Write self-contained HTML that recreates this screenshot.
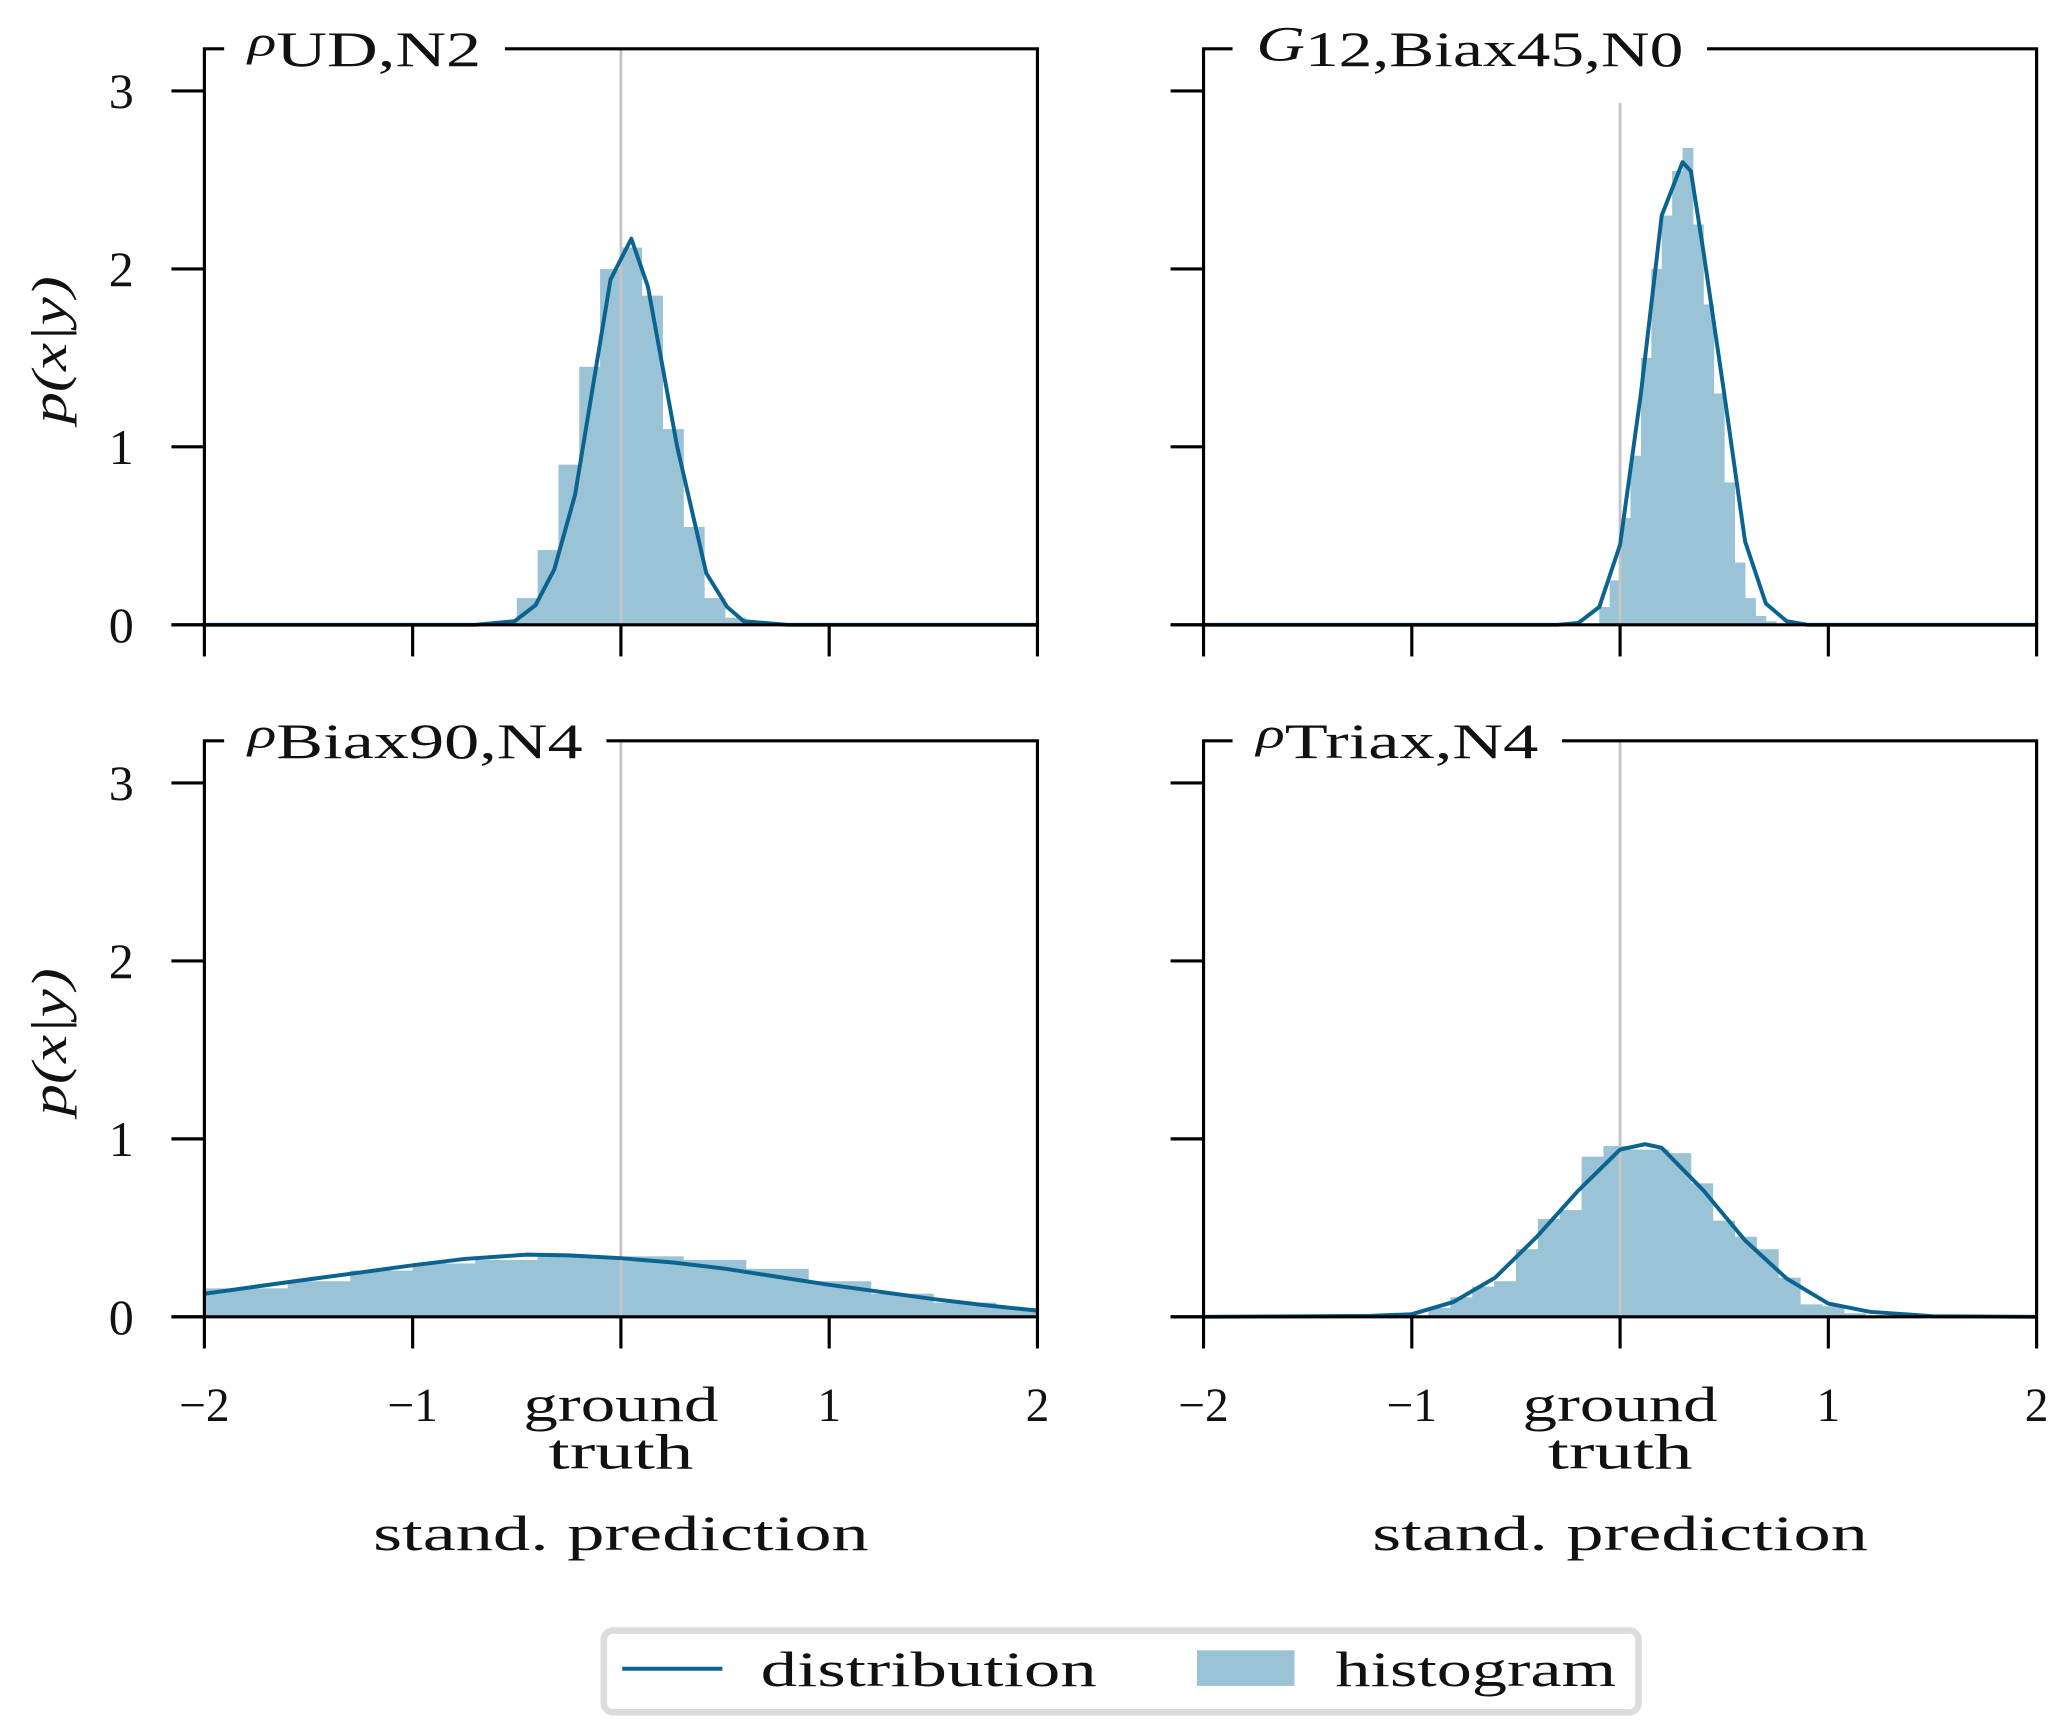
<!DOCTYPE html>
<html><head><meta charset="utf-8"><style>
html,body{margin:0;padding:0;background:#fff;}
svg{display:block;}
text{font-family:"Liberation Serif","DejaVu Serif",serif;fill:#111;}
</style></head><body>
<svg id="fig" xmlns="http://www.w3.org/2000/svg" width="2067" height="1736" viewBox="0 0 1568 1317"></svg>
<script>
// ---- data ----
const p1CurveX=[-2,-0.7,-0.51,-0.41,-0.32,-0.22,-0.05,0.05,0.13,0.27,0.41,0.51,0.59,0.8,2];
const p1CurveY=[0,0,0.02,0.11,0.31,0.73,1.94,2.17,1.90,1.0,0.29,0.10,0.02,0,0];
const p1BinEdges=[-0.6,-0.5,-0.4,-0.3,-0.2,-0.1,0,0.1,0.2,0.3,0.4,0.5,0.6];
const p1Hist=[0.02,0.15,0.42,0.9,1.45,2.0,2.12,1.85,1.1,0.55,0.15,0.04];

const p2CurveX=[-2,-0.3,-0.2,-0.1,0,0.1,0.2,0.3,0.34,0.4,0.5,0.6,0.7,0.8,0.9,2];
const p2CurveY=[0,0,0.01,0.1,0.45,1.3,2.3,2.6,2.55,2.1,1.3,0.47,0.12,0.02,0,0];
const p2BinEdges=[-0.1,-0.05,0,0.05,0.1,0.15,0.2,0.25,0.3,0.35,0.4,0.45,0.5,0.55,0.6,0.65,0.7,0.75];
const p2Hist=[0.1,0.25,0.6,0.95,1.5,2.0,2.3,2.55,2.68,2.25,1.8,1.3,0.8,0.35,0.15,0.05,0.02];

const p3CurveX=[-2,-1.75,-1.5,-1.25,-1,-0.75,-0.45,-0.25,0,0.25,0.5,0.75,1,1.25,1.5,1.75,2];
const p3CurveY=[0.13,0.17,0.21,0.25,0.29,0.325,0.35,0.345,0.33,0.305,0.27,0.225,0.18,0.14,0.1,0.065,0.035];
const p3BinEdges=[-2,-1.6,-1.3,-1.0,-0.7,-0.4,-0.1,0,0.3,0.6,0.9,1.2,1.5,1.8,2];
const p3Hist=[0.16,0.2,0.26,0.3,0.32,0.34,0.34,0.34,0.32,0.27,0.2,0.13,0.08,0.05];

const p4CurveX=[-2,-1.2,-1,-0.8,-0.6,-0.4,-0.2,0,0.12,0.2,0.4,0.6,0.8,1.0,1.2,1.5,2];
const p4CurveY=[0,0.005,0.015,0.084,0.22,0.45,0.71,0.94,0.97,0.95,0.71,0.43,0.215,0.075,0.028,0.004,0];
const p4BinEdges=[-0.92,-0.815,-0.71,-0.605,-0.5,-0.395,-0.29,-0.185,-0.08,0.025,0.13,0.235,0.34,0.445,0.55,0.655,0.76,0.865,0.97,1.075,1.18];
const p4Hist=[0.05,0.11,0.17,0.2,0.38,0.55,0.6,0.9,0.96,0.94,0.94,0.92,0.75,0.54,0.45,0.38,0.22,0.07,0.06,0.02];

const xTicks=[-2,-1,0,1,2];
const xTickLabels=["\u22122","\u22121","ground|truth","1","2"];
const yTicks=[0,1,2,3];
const yTickLabels=["0","1","2","3"];

// ---- drawing ----
const NS="http://www.w3.org/2000/svg";
const svg=document.getElementById('fig');
function mk(tag,attrs,parent){const e=document.createElementNS(NS,tag);for(const k in attrs)e.setAttribute(k,attrs[k]);(parent||svg).appendChild(e);return e;}
const HIST="#9bc3d6", LINE="#0b6390";
const FS=38;

const panels=[
 {x0:155,yb:474,top:37,gtTop:37,cx:p1CurveX,cy:p1CurveY,be:p1BinEdges,h:p1Hist,sym:"ρ",sub:"UD,N2",stubEnd:170,lineStart:383,ylab:true,xlab:false,name:"rho-ud-n2"},
 {x0:913,yb:474,top:37,gtTop:78,cx:p2CurveX,cy:p2CurveY,be:p2BinEdges,h:p2Hist,sym:"G",sub:"12,Biax45,N0",stubEnd:935,lineStart:1295,ylab:false,xlab:false,name:"g12-biax45-n0"},
 {x0:155,yb:999,top:562,gtTop:562,cx:p3CurveX,cy:p3CurveY,be:p3BinEdges,h:p3Hist,sym:"ρ",sub:"Biax90,N4",stubEnd:170,lineStart:460,ylab:true,xlab:true,name:"rho-biax90-n4"},
 {x0:913,yb:999,top:562,gtTop:562,cx:p4CurveX,cy:p4CurveY,be:p4BinEdges,h:p4Hist,sym:"ρ",sub:"Triax,N4",stubEnd:935,lineStart:1185,ylab:false,xlab:true,name:"rho-triax-n4"}
];
const W=632, PERY=135;

panels.forEach((P,pi)=>{
  const g=mk('g',{});
  
  
  const sx=v=>P.x0+(v+2)/4*W;
  const sy=v=>P.yb-v*PERY;
  const hg=mk('g',{},g);
  
  
  P.h.forEach((v,i)=>{
    const x1=sx(P.be[i]),x2=sx(P.be[i+1]);
    const r=mk('rect',{x:x1,y:sy(v),width:x2-x1+0.3,height:P.yb-sy(v),fill:HIST},hg);
    
    
  });
  const gt=mk('line',{x1:sx(0),x2:sx(0),y1:P.gtTop,y2:P.yb,stroke:"#c4c4c4","stroke-width":2.2},g);
  
  
  const pts=P.cx.map((x,i)=>sx(x).toFixed(1)+","+sy(P.cy[i]).toFixed(1)).join(" ");
  const pl=mk('polyline',{points:pts,fill:"none",stroke:LINE,"stroke-width":3,"stroke-linejoin":"round"},g);
  
  
  const sp={stroke:"#000","stroke-width":2.4,fill:"none"};
  mk('line',Object.assign({x1:P.x0,x2:P.x0,y1:P.top-1,y2:P.yb},sp),g);
  mk('line',Object.assign({x1:P.x0+W,x2:P.x0+W,y1:P.top-1,y2:P.yb},sp),g);
  mk('line',Object.assign({x1:P.x0-25,x2:P.x0+W+1,y1:P.yb,y2:P.yb},sp),g);
  mk('line',Object.assign({x1:P.x0-1,x2:P.stubEnd,y1:P.top,y2:P.top},sp),g);
  mk('line',Object.assign({x1:P.lineStart,x2:P.x0+W+1,y1:P.top,y2:P.top},sp),g);
  yTicks.forEach((t,i)=>{
    mk('line',Object.assign({x1:P.x0-25,x2:P.x0,y1:sy(t),y2:sy(t)},sp),g);
    if(P.ylab){const tx=mk('text',{x:92,y:sy(t)+13,'font-size':FS,'text-anchor':'middle'},g);tx.textContent=yTickLabels[i];
      
      }
  });
  xTicks.forEach((t,i)=>{
    mk('line',Object.assign({x1:sx(t),x2:sx(t),y1:P.yb,y2:P.yb+24},sp),g);
    if(P.xlab){
      const parts=xTickLabels[i].split("|");
      parts.forEach((s,k)=>{
        const tx=mk('text',{x:sx(t),y:1078+k*36,'font-size':FS,'text-anchor':'middle'},g);
        if(s==="ground"){tx.setAttribute('textLength',148);tx.setAttribute('lengthAdjust','spacingAndGlyphs');}
        if(s==="truth"){tx.setAttribute('textLength',110);tx.setAttribute('lengthAdjust','spacingAndGlyphs');}
        if(s.length<=2)tx.setAttribute('font-size',36);
        tx.textContent=s;
        
        
      });
    }
  });
  const title=mk('text',{x:P.stubEnd+18,y:P.top+13,'font-size':FS},g);
  
  
  const ts1=mk('tspan',{'font-style':'italic','font-size':P.sym==="G"?38:32,dy:P.sym==="G"?-4:-8},title);ts1.textContent=P.sym;
  const ts2=mk('tspan',{dy:P.sym==="G"?4:8},title);ts2.textContent=P.sub;
  title.setAttribute('textLength',P.lineStart-P.stubEnd-36);
  title.setAttribute('lengthAdjust','spacingAndGlyphs');
  if(P.ylab){
    const cy=(P.top+P.yb)/2+10;
    const yl=mk('text',{x:0,y:0,'font-size':FS,'font-style':'italic','text-anchor':'middle',transform:`translate(50,${cy}) rotate(-90)`,textLength:112,lengthAdjust:'spacingAndGlyphs'},g);
    yl.textContent="p(x|y)";
    
    
  }
  if(P.xlab){
    const xl=mk('text',{x:sx(0),y:1176,'font-size':FS,'text-anchor':'middle',textLength:376,lengthAdjust:'spacingAndGlyphs'},g);
    xl.textContent="stand. prediction";
    
    
  }
});

const lg=mk('g',{});


mk('rect',{x:458,y:1237,width:785,height:62,rx:7,fill:"#fff",stroke:"#dcdcdc","stroke-width":5},lg);
const ll=mk('line',{x1:472,x2:548,y1:1266,y2:1266,stroke:LINE,"stroke-width":3},lg);


const t1=mk('text',{x:577,y:1279,'font-size':FS,textLength:255,lengthAdjust:'spacingAndGlyphs'},lg);t1.textContent="distribution";


const lp=mk('rect',{x:908,y:1252,width:74,height:27,fill:HIST},lg);


const t2=mk('text',{x:1013,y:1279,'font-size':FS,textLength:213,lengthAdjust:'spacingAndGlyphs'},lg);t2.textContent="histogram";


</script>
</body></html>
